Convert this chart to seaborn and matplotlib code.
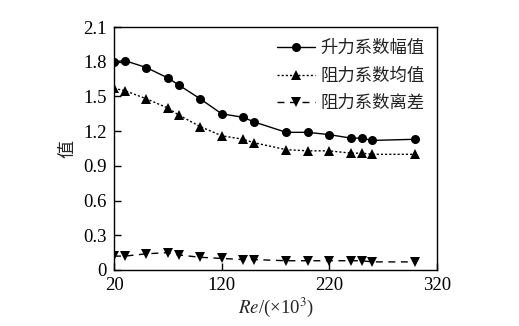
import matplotlib
matplotlib.use("Agg")
import matplotlib.pyplot as plt
import seaborn as sns
import pandas as pd

re_vals = [20, 30, 50, 70, 80, 100, 120, 140, 150, 180, 200, 220, 240, 250, 260, 300]
lift_amp = [1.80, 1.81, 1.75, 1.66, 1.60, 1.48, 1.35, 1.32, 1.28, 1.19, 1.19, 1.17, 1.14, 1.14, 1.12, 1.13]
drag_mean = [1.57, 1.55, 1.48, 1.40, 1.34, 1.24, 1.16, 1.13, 1.10, 1.04, 1.03, 1.03, 1.01, 1.01, 1.00, 1.00]
drag_std = [0.12, 0.12, 0.14, 0.15, 0.13, 0.11, 0.10, 0.09, 0.09, 0.08, 0.08, 0.08, 0.08, 0.08, 0.07, 0.07]
series_names = ["升力系数幅值", "阻力系数均值", "阻力系数离差"]
x_ticks = [20, 120, 220, 320]
y_ticks = [0, 0.3, 0.6, 0.9, 1.2, 1.5, 1.8, 2.1]
y_tick_labels = ["0", "0.3", "0.6", "0.9", "1.2", "1.5", "1.8", "2.1"]

sns.set_style("ticks")
plt.rcParams["font.family"] = ["Liberation Serif", "Noto Sans CJK SC"]
plt.rcParams["mathtext.fontset"] = "stix"

df = pd.concat([
    pd.DataFrame({"Re": re_vals, "val": lift_amp, "s": series_names[0]}),
    pd.DataFrame({"Re": re_vals, "val": drag_mean, "s": series_names[1]}),
    pd.DataFrame({"Re": re_vals, "val": drag_std, "s": series_names[2]}),
])

fig = plt.figure(figsize=(5.19, 3.26), dpi=100)
ax = fig.add_axes([0.2197, 0.1718, 0.842 - 0.2197, 0.917 - 0.1718])

styles = [("-", "o", 6.5), ((0, (1.5, 1.5)), "^", 6.5), ((0, (5, 4)), "v", 6.5)]
for name, (ls, mk, ms) in zip(series_names, styles):
    sub = df[df["s"] == name]
    sns.lineplot(data=sub, x="Re", y="val", ax=ax, color="black", linestyle=ls,
                 linewidth=1.0, marker=mk, markersize=ms, markeredgewidth=0,
                 label=name)

ax.set_xlim(20, 320)
ax.set_ylim(0, 2.1)
ax.set_xticks(x_ticks)
ax.set_xticklabels([str(t) for t in x_ticks])
ax.set_yticks(y_ticks)
ax.set_yticklabels(y_tick_labels)
ax.tick_params(direction="in", length=5, width=1, labelsize=13.5, colors="black", pad=5)
for sp in ax.spines.values():
    sp.set_linewidth(1.0)
    sp.set_color("black")
    sp.set_visible(True)

ax.set_xlabel(r"$\mathit{Re}$/(×10$^3$)", fontsize=13.5, labelpad=1)
ax.set_ylabel("值", fontsize=13, family=["Noto Sans CJK SC"], labelpad=5)

leg = ax.legend(loc="upper right", frameon=False, handlelength=2.2,
                handletextpad=0.3, labelspacing=0.55, borderaxespad=0.3,
                bbox_to_anchor=(1.0, 1.0),
                prop={"family": ["Noto Sans CJK SC"], "size": 12.5})
for t in leg.get_texts():
    t.set_color("#222222")

fig.savefig("out.png", dpi=100)
